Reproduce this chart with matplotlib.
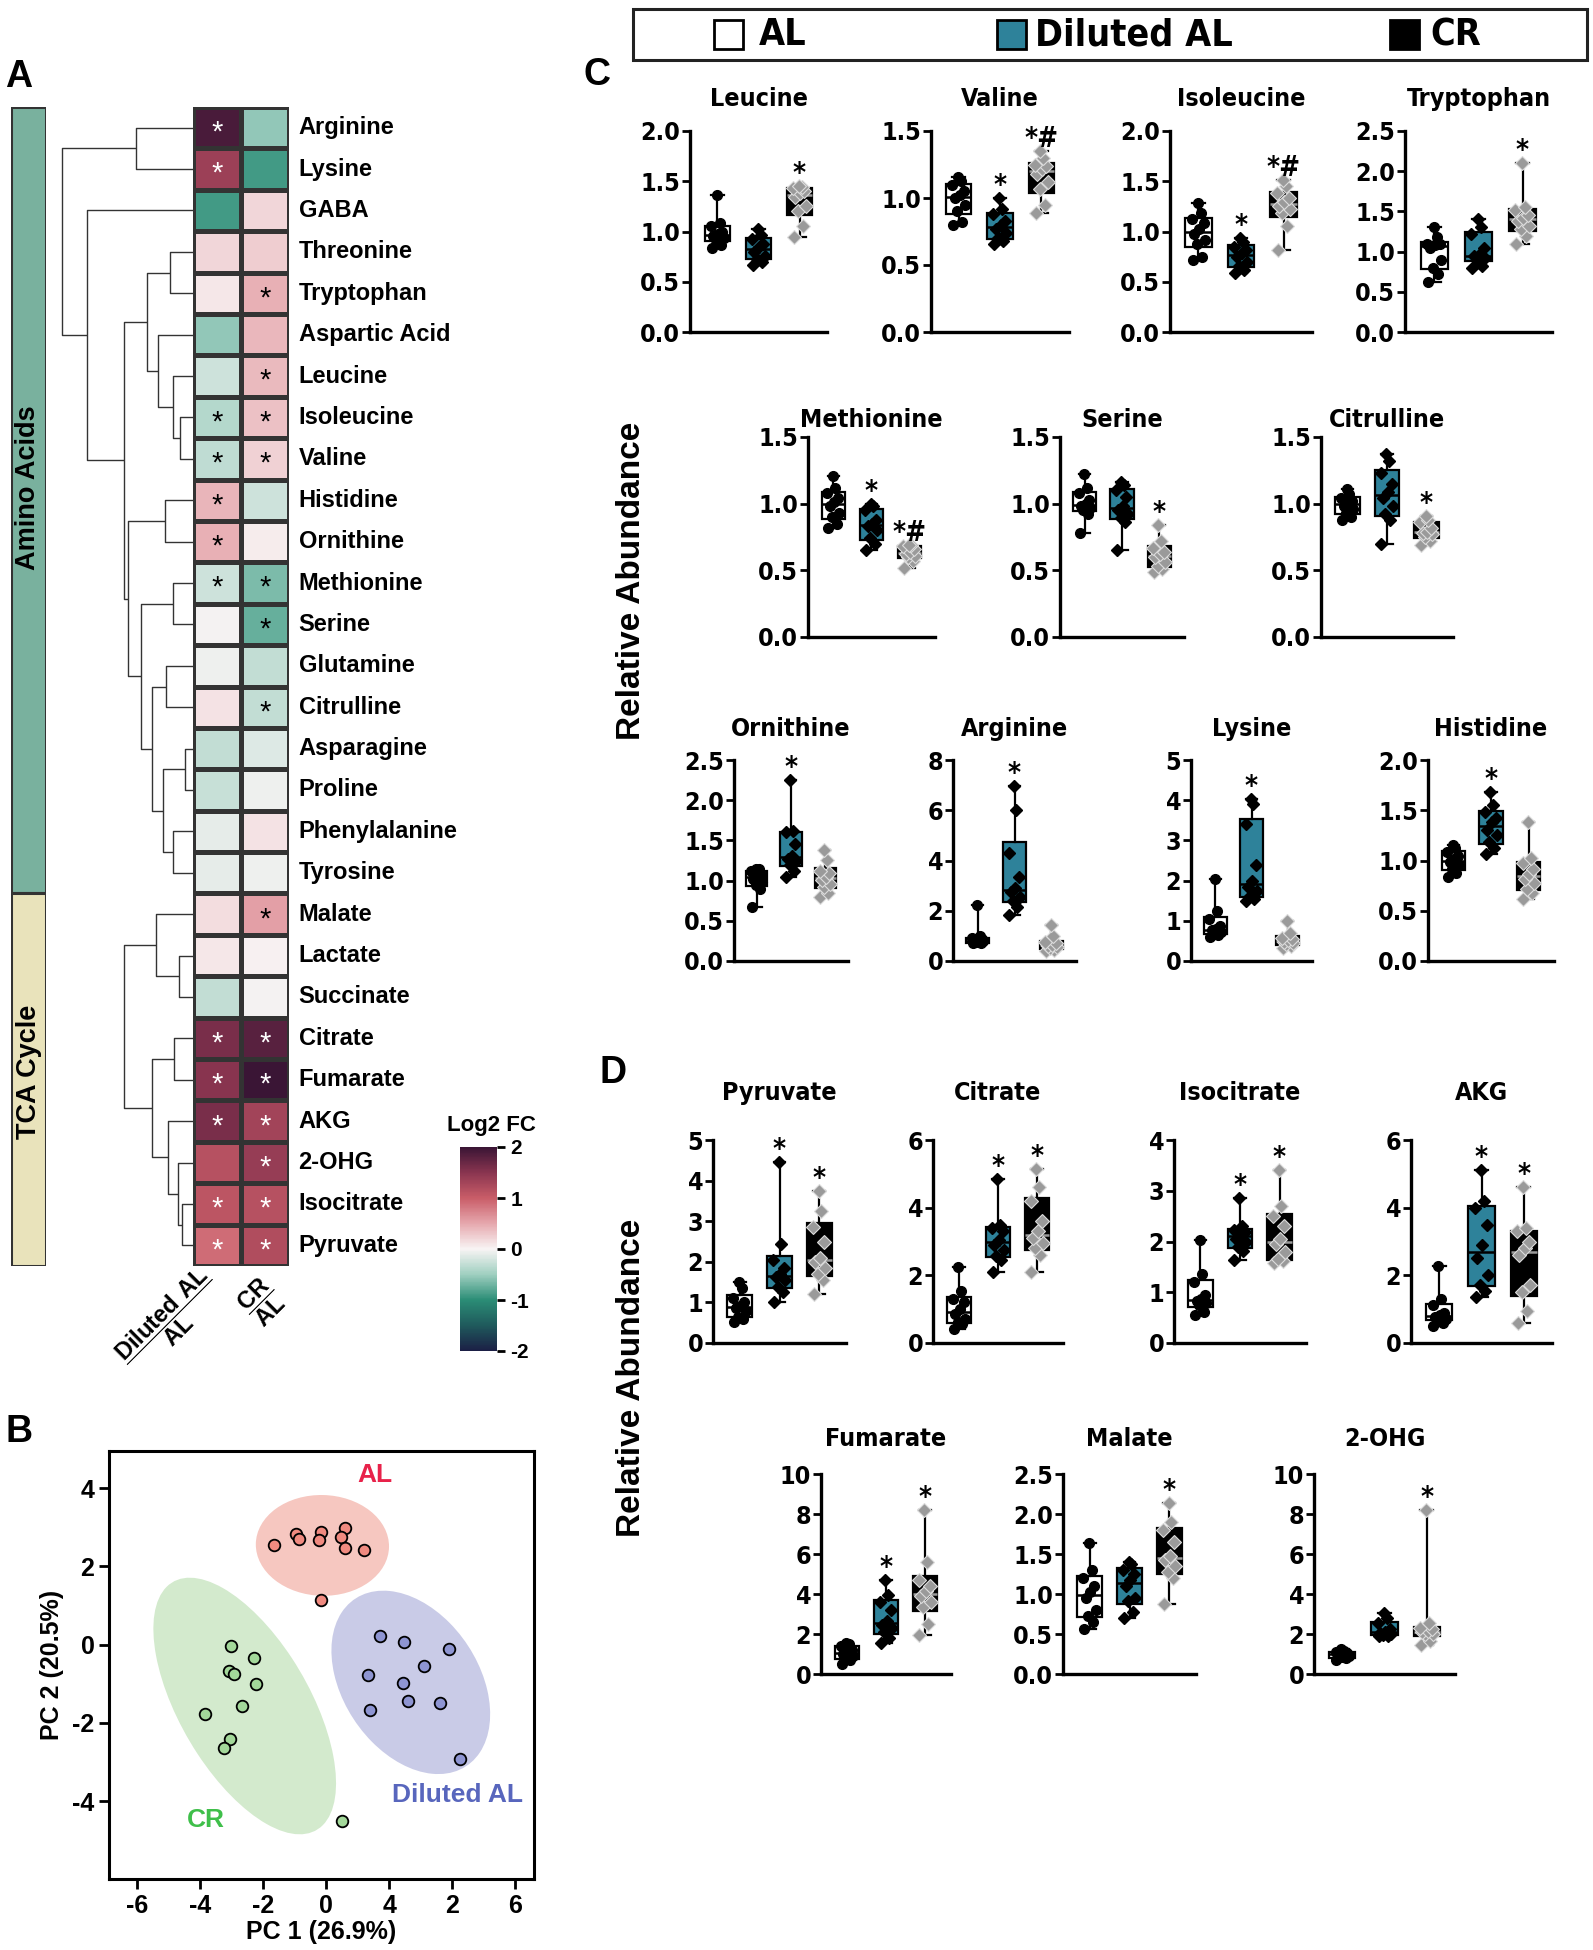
import numpy as np
import matplotlib
matplotlib.use("Agg")
import matplotlib.pyplot as plt
from matplotlib import font_manager, cbook
from matplotlib.colors import LinearSegmentedColormap
from matplotlib.patches import Ellipse, Rectangle

W, H = 1593, 1950

_fonts = font_manager.fontManager.ttflist
_names = {f.name for f in _fonts}
SANS = 'Liberation Sans' if 'Liberation Sans' in _names else 'DejaVu Sans'
# condensed face for the GraphPad-style box plots, if one is installed
NARROW, STRETCH = SANS, 'normal'
if 'Liberation Sans Narrow' in _names:
    NARROW = 'Liberation Sans Narrow'
elif any(f.name == 'DejaVu Sans' and f.stretch == 'condensed' for f in _fonts):
    NARROW, STRETCH = 'DejaVu Sans', 'condensed'

plt.rcParams['font.family'] = SANS
plt.rcParams['font.weight'] = 'bold'
plt.rcParams['axes.labelweight'] = 'bold'
plt.rcParams['axes.unicode_minus'] = False
plt.rcParams['mathtext.fontset'] = 'custom'
plt.rcParams['mathtext.rm'] = SANS + ':bold'
plt.rcParams['mathtext.bf'] = SANS + ':bold'

# ---------------- data: heatmap (log2 fold change) ----------------
metabolites = ['Arginine', 'Lysine', 'GABA', 'Threonine', 'Tryptophan', 'Aspartic Acid',
               'Leucine', 'Isoleucine', 'Valine', 'Histidine', 'Ornithine', 'Methionine',
               'Serine', 'Glutamine', 'Citrulline', 'Asparagine', 'Proline', 'Phenylalanine',
               'Tyrosine', 'Malate', 'Lactate', 'Succinate', 'Citrate', 'Fumarate', 'AKG',
               '2-OHG', 'Isocitrate', 'Pyruvate']
fc_diluted = [1.9, 1.35, -0.9, 0.2, 0.08, -0.55, -0.25, -0.38, -0.32, 0.42, 0.45, -0.25,
              -0.02, -0.05, 0.12, -0.3, -0.28, -0.1, -0.1, 0.15, 0.08, -0.3,
              1.6, 1.5, 1.6, 1.15, 1.1, 0.9]
fc_cr = [-0.55, -0.9, 0.2, 0.25, 0.45, 0.4, 0.38, 0.33, 0.22, -0.25, 0.05, -0.65,
         -0.75, -0.3, -0.3, -0.15, -0.05, 0.12, -0.06, 0.55, 0.03, -0.03,
         1.8, 2.0, 1.3, 1.4, 1.15, 1.2]
sig_diluted = [1, 1, 0, 0, 0, 0, 0, 1, 1, 1, 1, 1, 0, 0, 0, 0, 0, 0, 0, 0, 0, 0, 1, 1, 1, 0, 1, 1]
sig_cr = [0, 0, 0, 0, 1, 0, 1, 1, 1, 0, 0, 1, 1, 0, 1, 0, 0, 0, 0, 1, 0, 0, 1, 1, 1, 1, 1, 1]
n_amino = 19

# dendrogram merges: (new cluster, left, right, height)
merges = [
    ('A1', 'Arginine', 'Lysine', 160), ('T1', 'Threonine', 'Tryptophan', 63),
    ('V1', 'Isoleucine', 'Valine', 35), ('L1', 'Leucine', 'V1', 55),
    ('S1', 'Aspartic Acid', 'L1', 97), ('T2', 'T1', 'S1', 128),
    ('H1', 'Histidine', 'Ornithine', 78), ('M1', 'Methionine', 'Serine', 57),
    ('G1', 'Glutamine', 'Citrulline', 75), ('P1', 'Asparagine', 'Proline', 23),
    ('F1', 'Phenylalanine', 'Tyrosine', 57), ('PF', 'P1', 'F1', 83),
    ('GP', 'G1', 'PF', 113), ('MG', 'M1', 'GP', 145), ('HM', 'H1', 'MG', 180),
    ('TH', 'T2', 'HM', 192), ('GT', 'GABA', 'TH', 295), ('AA', 'A1', 'GT', 365),
    ('LS', 'Lactate', 'Succinate', 40), ('ML', 'Malate', 'LS', 103),
    ('CF', 'Citrate', 'Fumarate', 53), ('IP', 'Isocitrate', 'Pyruvate', 30),
    ('OI', '2-OHG', 'IP', 43), ('AO', 'AKG', 'OI', 70), ('CA', 'CF', 'AO', 113),
    ('TCA', 'ML', 'CA', 192),
]

# ---------------- data: PCA scores ----------------
pc1_al = [-1.64, -0.95, -0.87, -0.17, -0.24, 0.61, 0.48, 0.59, 1.19, -0.16]
pc2_al = [2.54, 2.82, 2.69, 2.88, 2.67, 2.99, 2.76, 2.48, 2.41, 1.13]
pc1_dil = [1.72, 2.47, 3.90, 3.10, 1.34, 2.45, 2.59, 3.62, 1.40, 4.26]
pc2_dil = [0.21, 0.08, -0.12, -0.54, -0.77, -0.98, -1.43, -1.50, -1.66, -2.93]
pc1_cr = [-3.02, -2.29, -3.09, -2.91, -2.22, -2.68, -3.83, -3.05, -3.22, 0.52]
pc2_cr = [-0.03, -0.33, -0.68, -0.75, -1.0, -1.57, -1.78, -2.41, -2.63, -4.50]
pca_xticklabels = ['-6', '-4', '-2', '0', '4', '2', '6']
pca_yticklabels = ['-4', '-2', '0', '2', '4']

# ---------------- data: relative abundance (AL, Diluted AL, CR) ----------------
leucine = ([0.84, 0.87, 0.92, 0.94, 0.96, 0.98, 1.00, 1.05, 1.08, 1.36],
           [0.67, 0.70, 0.73, 0.76, 0.80, 0.85, 0.88, 0.93, 0.97, 1.02],
           [0.95, 1.05, 1.20, 1.25, 1.34, 1.38, 1.40, 1.43, 1.44, 1.45])
valine = ([0.80, 0.82, 0.90, 0.95, 1.00, 1.02, 1.05, 1.10, 1.13, 1.16],
          [0.66, 0.68, 0.70, 0.74, 0.77, 0.80, 0.83, 0.88, 0.92, 1.00],
          [0.89, 0.95, 1.07, 1.12, 1.18, 1.22, 1.24, 1.25, 1.30, 1.35])
isoleucine = ([0.72, 0.75, 0.88, 0.92, 0.98, 1.02, 1.08, 1.12, 1.18, 1.28],
              [0.59, 0.62, 0.66, 0.70, 0.75, 0.79, 0.82, 0.85, 0.90, 0.94],
              [0.82, 1.05, 1.18, 1.22, 1.25, 1.29, 1.33, 1.38, 1.45, 1.51])
tryptophan = ([0.62, 0.72, 0.80, 0.90, 1.05, 1.08, 1.09, 1.10, 1.18, 1.30],
              [0.79, 0.82, 0.90, 0.92, 0.94, 0.96, 1.05, 1.22, 1.30, 1.40],
              [1.09, 1.20, 1.28, 1.32, 1.38, 1.42, 1.45, 1.52, 1.55, 2.10])
methionine = ([0.82, 0.85, 0.90, 0.93, 0.98, 1.01, 1.04, 1.08, 1.12, 1.21],
              [0.65, 0.70, 0.74, 0.80, 0.83, 0.85, 0.88, 0.95, 0.98, 1.00],
              [0.52, 0.57, 0.60, 0.61, 0.62, 0.64, 0.66, 0.68, 0.69, 0.69])
serine = ([0.78, 0.92, 0.95, 0.97, 0.98, 1.00, 1.03, 1.08, 1.12, 1.22],
          [0.65, 0.86, 0.89, 0.92, 0.95, 0.98, 1.05, 1.10, 1.14, 1.16],
          [0.49, 0.51, 0.53, 0.56, 0.60, 0.62, 0.64, 0.67, 0.72, 0.84])
citrulline = ([0.88, 0.90, 0.93, 0.96, 0.98, 1.01, 1.02, 1.04, 1.07, 1.11],
              [0.70, 0.88, 0.92, 0.98, 1.04, 1.09, 1.15, 1.23, 1.32, 1.37],
              [0.69, 0.72, 0.75, 0.77, 0.78, 0.79, 0.82, 0.86, 0.88, 0.91])
ornithine = ([0.67, 0.90, 0.94, 0.98, 1.02, 1.06, 1.08, 1.12, 1.14, 1.15],
             [1.05, 1.12, 1.20, 1.24, 1.27, 1.31, 1.45, 1.60, 1.62, 2.25],
             [0.80, 0.85, 0.92, 0.96, 1.01, 1.05, 1.09, 1.12, 1.25, 1.38])
arginine = ([0.70, 0.72, 0.74, 0.78, 0.80, 0.82, 0.86, 0.92, 0.98, 2.22],
            [1.85, 2.15, 2.40, 2.55, 2.75, 2.90, 3.35, 4.30, 6.00, 6.95],
            [0.40, 0.45, 0.50, 0.55, 0.60, 0.65, 0.70, 0.75, 1.00, 1.45])
lysine = ([0.60, 0.65, 0.68, 0.72, 0.76, 0.80, 0.88, 1.05, 1.25, 2.05],
          [1.50, 1.55, 1.62, 1.75, 1.85, 2.00, 2.40, 3.40, 3.90, 4.02],
          [0.32, 0.38, 0.42, 0.45, 0.48, 0.52, 0.55, 0.58, 0.70, 1.00])
histidine = ([0.84, 0.88, 0.92, 0.96, 0.99, 1.01, 1.04, 1.08, 1.12, 1.15],
             [1.06, 1.12, 1.18, 1.25, 1.30, 1.38, 1.42, 1.48, 1.55, 1.68],
             [0.62, 0.68, 0.72, 0.78, 0.82, 0.87, 0.92, 0.98, 1.02, 1.38])
pyruvate = ([0.52, 0.58, 0.65, 0.80, 0.85, 0.92, 1.00, 1.12, 1.35, 1.50],
            [1.00, 1.25, 1.38, 1.55, 1.62, 1.70, 1.85, 2.05, 2.45, 4.45],
            [1.20, 1.55, 1.70, 1.85, 2.00, 2.10, 2.50, 2.85, 3.25, 3.75])
citrate = ([0.40, 0.55, 0.62, 0.72, 0.85, 1.00, 1.20, 1.30, 1.55, 2.25],
           [2.10, 2.45, 2.58, 2.75, 2.90, 3.05, 3.30, 3.40, 3.50, 4.85],
           [2.10, 2.60, 2.80, 2.95, 3.10, 3.30, 3.60, 4.20, 4.60, 5.15])
isocitrate = ([0.56, 0.62, 0.74, 0.78, 0.82, 0.86, 0.95, 1.20, 1.35, 2.02],
              [1.63, 1.82, 1.90, 2.00, 2.05, 2.15, 2.18, 2.22, 2.30, 2.85],
              [1.58, 1.62, 1.65, 1.80, 1.95, 2.05, 2.30, 2.50, 2.70, 3.40])
akg = ([0.50, 0.60, 0.70, 0.72, 0.76, 0.82, 0.90, 1.12, 1.30, 2.28],
       [1.35, 1.55, 1.72, 2.00, 2.50, 2.90, 3.50, 4.00, 4.20, 5.10],
       [0.58, 0.95, 1.52, 1.70, 2.60, 2.80, 3.00, 3.30, 3.40, 4.60])
fumarate = ([0.50, 0.70, 0.80, 0.90, 1.00, 1.10, 1.20, 1.40, 1.48, 1.55],
            [1.55, 1.80, 2.08, 2.30, 2.45, 2.65, 3.20, 3.60, 3.95, 4.70],
            [1.95, 2.50, 3.35, 3.60, 3.90, 4.15, 4.40, 4.70, 5.60, 8.20])
malate = ([0.56, 0.65, 0.73, 0.80, 0.95, 1.02, 1.10, 1.20, 1.30, 1.64],
          [0.70, 0.78, 0.91, 0.95, 1.10, 1.18, 1.25, 1.30, 1.38, 1.40],
          [0.88, 1.20, 1.27, 1.35, 1.42, 1.48, 1.65, 1.80, 1.90, 2.14])
ohg = ([0.70, 0.80, 0.83, 0.90, 0.95, 1.02, 1.05, 1.10, 1.15, 1.25],
       [1.88, 1.92, 1.95, 2.00, 2.05, 2.12, 2.25, 2.55, 2.80, 3.05],
       [1.45, 1.65, 1.98, 2.00, 2.10, 2.15, 2.25, 2.30, 2.55, 8.20])

# (title, data, y max, y step, rect in px (x0, top, x1, bottom), title y px, significance)
box_panels = [
    ('Leucine', leucine, 2.0, 0.5, (690, 131, 827, 332), 99, ['', '', '*']),
    ('Valine', valine, 1.5, 0.5, (931, 131, 1069, 332), 99, ['', '*', '*#']),
    ('Isoleucine', isoleucine, 2.0, 0.5, (1170, 131, 1312, 332), 99, ['', '*', '*#']),
    ('Tryptophan', tryptophan, 2.5, 0.5, (1405, 131, 1552, 332), 99, ['', '', '*']),
    ('Methionine', methionine, 1.5, 0.5, (808, 437, 935, 637), 420, ['', '*', '*#']),
    ('Serine', serine, 1.5, 0.5, (1060, 437, 1184, 637), 420, ['', '', '*']),
    ('Citrulline', citrulline, 1.5, 0.5, (1321, 437, 1453, 637), 420, ['', '', '*']),
    ('Ornithine', ornithine, 2.5, 0.5, (734, 760, 848, 961), 729, ['', '*', '']),
    ('Arginine', arginine, 8, 2, (953, 760, 1076, 961), 729, ['', '*', '']),
    ('Lysine', lysine, 5, 1, (1191, 760, 1312, 961), 729, ['', '*', '']),
    ('Histidine', histidine, 2.0, 0.5, (1428, 760, 1554, 961), 729, ['', '*', '']),
    ('Pyruvate', pyruvate, 5, 1, (713, 1140, 846, 1343), 1093, ['', '*', '*']),
    ('Citrate', citrate, 6, 2, (933, 1140, 1063, 1343), 1093, ['', '*', '*']),
    ('Isocitrate', isocitrate, 4, 1, (1174, 1140, 1306, 1343), 1093, ['', '*', '*']),
    ('AKG', akg, 6, 2, (1411, 1140, 1552, 1343), 1093, ['', '*', '*']),
    ('Fumarate', fumarate, 10, 2, (821, 1474, 951, 1674), 1439, ['', '*', '*']),
    ('Malate', malate, 2.5, 0.5, (1063, 1474, 1196, 1674), 1439, ['', '', '*']),
    ('2-OHG', ohg, 10, 2, (1314, 1474, 1455, 1674), 1439, ['', '', '*']),
]

TEAL = '#2e829a'
fig = plt.figure(figsize=(W / 100, H / 100), dpi=100)
fig.patch.set_facecolor('white')


def ax_px(x0, y0, x1, y1):
    return fig.add_axes([x0 / W, 1 - y1 / H, (x1 - x0) / W, (y1 - y0) / H])


def ftext(x, y, s, **kw):
    fig.text(x / W, 1 - y / H, s, **kw)


# ---------------- panel A: heatmap ----------------
n = len(metabolites)
cmap = LinearSegmentedColormap.from_list('fc', [
    (0.0, '#1b1f45'), (0.125, '#1f5a5c'), (0.25, '#2b8d76'), (0.375, '#9fcfc0'),
    (0.5, '#f8f4f4'), (0.625, '#e6a8ae'), (0.75, '#c95d68'), (0.875, '#8a3550'),
    (1.0, '#3a1535')])
vals = np.column_stack([fc_diluted, fc_cr])
sigs = np.column_stack([sig_diluted, sig_cr])

hax = ax_px(193, 107, 289, 1266)
mesh = hax.pcolormesh(np.arange(3), np.arange(n + 1), vals, cmap=cmap, vmin=-2, vmax=2,
                      edgecolors='#333333', linewidth=2.2)
hax.set_xlim(0, 2)
hax.set_ylim(n, 0)
hax.axis('off')
for i in range(n):
    for j in range(2):
        if sigs[i, j]:
            c = 'white' if abs(vals[i, j]) > 0.8 else 'black'
            hax.text(j + 0.5, i + 0.62, '*', ha='center', va='center', color=c,
                     fontsize=21, fontweight='normal')
    hax.text(2.2, i + 0.5, metabolites[i], ha='left', va='center', fontsize=17,
             fontweight='bold', clip_on=False)

# dendrogram
dax = ax_px(62, 107, 193, 1266)
pos = {m: i + 0.5 for i, m in enumerate(metabolites)}
hgt = {m: 0 for m in metabolites}
for name, left, right, h in merges:
    dax.plot([hgt[left], h, h, hgt[right]], [pos[left], pos[left], pos[right], pos[right]],
             color='#333333', lw=1.0, clip_on=False, solid_capstyle='butt')
    pos[name] = (pos[left] + pos[right]) / 2
    hgt[name] = h
dax.set_xlim(365, 0)
dax.set_ylim(n, 0)
dax.axis('off')

# class side bar
sax = ax_px(11, 107, 46, 1266)
sax.add_patch(Rectangle((0, 0), 1, n_amino, facecolor='#79b19e', edgecolor='#333333', lw=2.2))
sax.add_patch(Rectangle((0, n_amino), 1, n - n_amino, facecolor='#e9e3bb', edgecolor='#333333', lw=2.2))
sax.text(0.5, 9.2, 'Amino Acids', rotation=90, ha='center', va='center', fontsize=19.5)
sax.text(0.5, 23.3, 'TCA Cycle', rotation=90, ha='center', va='center', fontsize=19.5)
sax.set_xlim(0, 1)
sax.set_ylim(n, 0)
sax.axis('off')

# colorbar
cax = ax_px(460, 1147, 497, 1351)
cb = fig.colorbar(mesh, cax=cax, ticks=[-2, -1, 0, 1, 2])
cb.outline.set_visible(False)
cax.tick_params(length=6, width=2, labelsize=15)
for t in cax.get_yticklabels():
    t.set_fontweight('bold')
ftext(491, 1126, 'Log2 FC', ha='center', va='center', fontsize=16)

ftext(170, 1322, r'$\dfrac{\mathbf{Diluted\ AL}}{\mathbf{AL}}$', rotation=45,
      ha='center', va='center', fontsize=17)
ftext(262, 1302, r'$\dfrac{\mathbf{CR}}{\mathbf{AL}}$', rotation=45,
      ha='center', va='center', fontsize=17)

# ---------------- panel B: PCA ----------------
pax = ax_px(109, 1451, 534, 1879)
groups_pca = [
    (pc1_al, pc2_al, '#f6c7c0', '#f08a80'),
    (pc1_dil, pc2_dil, '#c9cbe7', '#8e95d2'),
    (pc1_cr, pc2_cr, '#d3eacd', '#a3d89a'),
]
for xs, ys, fill, pt in groups_pca:
    xs, ys = np.asarray(xs), np.asarray(ys)
    cov = np.cov(xs, ys)
    evals, evecs = np.linalg.eigh(cov)
    order = evals.argsort()[::-1]
    evals, evecs = evals[order], evecs[:, order]
    angle = np.degrees(np.arctan2(evecs[1, 0], evecs[0, 0]))
    k = np.sqrt(5.991)  # 95% confidence ellipse
    pax.add_patch(Ellipse((xs.mean(), ys.mean()), 2 * k * np.sqrt(evals[0]),
                          2 * k * np.sqrt(evals[1]), angle=angle,
                          facecolor=fill, edgecolor='none', zorder=1))
    pax.scatter(xs, ys, s=70, facecolor=pt, edgecolor='black', linewidth=1.3, zorder=3)
pax.text(1.55, 4.33, 'AL', color='#e8224a', fontsize=19, ha='center', va='center')
pax.text(4.15, -3.85, 'Diluted AL', color='#5866bd', fontsize=19, ha='center', va='center')
pax.text(-3.8, -4.48, 'CR', color='#3fbf4a', fontsize=19, ha='center', va='center')
pax.set_xlim(-6.88, 6.59)
pax.set_ylim(-5.99, 4.95)
pax.set_xticks([-6, -4, -2, 0, 2, 4, 6])
pax.set_xticklabels(pca_xticklabels, fontsize=18, fontweight='bold')
pax.set_yticks([-4, -2, 0, 2, 4])
pax.set_yticklabels(pca_yticklabels, fontsize=18, fontweight='bold')
pax.tick_params(length=7, width=2)
for s in pax.spines.values():
    s.set_linewidth(2.2)
pax.set_xlabel('PC 1 (26.9%)', fontsize=18, fontweight='bold', labelpad=2)
pax.set_ylabel('PC 2 (20.5%)', fontsize=18, fontweight='bold', labelpad=6)

# ---------------- panels C and D: box plots ----------------
FACES = ['white', TEAL, 'black']
MEDS = ['black', 'black', '#9a9a9a']
JIT = np.array([-0.14, 0.08, -0.04, 0.15, -0.1, 0.02, 0.12, -0.16, 0.05, -0.02])
nfont = dict(fontfamily=NARROW, fontstretch=STRETCH, fontweight='bold')

for title, data, ytop, ystep, rect, ty, sig in box_panels:
    ax = ax_px(*rect)
    stats = cbook.boxplot_stats([np.asarray(g) for g in data], whis=(0, 100))
    for st, g in zip(stats, data):
        st['q1'], st['q3'] = np.percentile(g, [25, 75], method='weibull')
    bp = ax.bxp(stats, positions=[1, 2, 3], widths=0.62, patch_artist=True, showfliers=False,
                boxprops=dict(linewidth=1.6, edgecolor='black'),
                whiskerprops=dict(linewidth=1.6, color='black'),
                capprops=dict(linewidth=1.6, color='black'),
                medianprops=dict(linewidth=1.8), capwidths=0.3)
    for i in range(3):
        bp['boxes'][i].set_facecolor(FACES[i])
        bp['medians'][i].set_color(MEDS[i])
        bp['medians'][i].set_zorder(2.5)
    for i, g in enumerate(data):
        g = np.asarray(g)
        x = i + 1 + JIT[:len(g)]
        if i == 0:
            ax.plot(x, g, 'o', color='black', ms=7, zorder=3, clip_on=False)
        elif i == 1:
            ax.plot(x, g, 'D', color='black', ms=6.5, zorder=3, clip_on=False)
        else:
            ax.plot(x, g, 'D', mfc='#9a9a9a', mec='#dcdcdc', mew=0.8, ms=7, zorder=3, clip_on=False)
        if sig[i]:
            ax.text(i + 1, g.max() + 0.02 * ytop, sig[i], ha='center', va='baseline',
                    fontsize=20, **nfont)
    ax.set_xlim(0.33, 3.67)
    ax.set_ylim(0, ytop)
    ax.set_xticks([])
    ticks = np.arange(0, ytop + ystep / 2, ystep)
    ax.set_yticks(ticks)
    fmt = '{:.1f}' if ystep < 1 else '{:.0f}'
    ax.set_yticklabels([fmt.format(t) for t in ticks], fontsize=18, **nfont)
    ax.tick_params(axis='y', length=6, width=2, pad=1)
    for s in ['top', 'right']:
        ax.spines[s].set_visible(False)
    for s in ['left', 'bottom']:
        ax.spines[s].set_linewidth(2.4)
    ftext((rect[0] + rect[2]) / 2, ty, title, ha='center', va='center', fontsize=18, **nfont)

ftext(632, 581, 'Relative Abundance', rotation=90, ha='center', va='center', fontsize=24)
ftext(632, 1378, 'Relative Abundance', rotation=90, ha='center', va='center', fontsize=24)

# ---------------- legend box ----------------
fig.add_artist(Rectangle((633 / W, 1 - 60 / H), (1587 - 633) / W, 51 / H,
                         transform=fig.transFigure, facecolor='white', edgecolor='#222222', lw=2.2))
legend_items = [('AL', 'white', 714, 759), ('Diluted AL', TEAL, 997, 1035), ('CR', 'black', 1390, 1430)]
for label, col, sx, tx in legend_items:
    fig.add_artist(Rectangle((sx / W, 1 - 49 / H), 29 / W, 29 / H, transform=fig.transFigure,
                             facecolor=col, edgecolor='black', lw=2))
    ftext(tx, 35, label, ha='left', va='center', fontsize=27, **nfont)

# ---------------- panel letters ----------------
for letter, x, y in [('A', 19, 77), ('B', 19, 1432), ('C', 597, 75), ('D', 613, 1073)]:
    ftext(x, y, letter, ha='center', va='center', fontsize=27)

fig.savefig('out.png', dpi=100)
